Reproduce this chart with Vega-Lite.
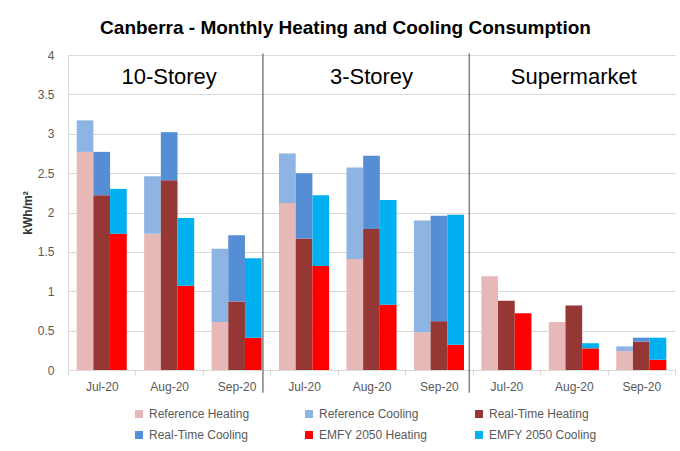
{
  "$schema": "https://vega.github.io/schema/vega-lite/v6.json",
  "width": 607,
  "height": 315,
  "autosize": {"type": "none"},
  "padding": {"left": 68, "top": 55, "right": 5, "bottom": 81},
  "background": "white",
  "title": {
    "text": "Canberra - Monthly Heating and Cooling Consumption",
    "fontSize": 19,
    "fontWeight": "bold",
    "font": "Liberation Sans",
    "color": "black",
    "anchor": "middle",
    "dx": -26,
    "offset": 11
  },
  "config": {
    "view": {"stroke": null},
    "font": "Liberation Sans",
    "axisY": {
      "title": "kWh/m²",
      "titleFontSize": 12,
      "titleFontWeight": "bold",
      "titleColor": "#333333",
      "titlePadding": 3,
      "ticks": false,
      "domainColor": "#d9d9d9",
      "gridColor": "#d9d9d9",
      "labelColor": "#595959",
      "labelFontSize": 12,
      "labelPadding": 14,
      "labelOverlap": false
    }
  },
  "datasets": {
    "bars": [
      {"cat": "10-Storey Jul-20", "s": "Reference", "t": "Heating", "series": "Reference Heating", "v": 2.77},
      {"cat": "10-Storey Jul-20", "s": "Reference", "t": "Cooling", "series": "Reference Cooling", "v": 0.40},
      {"cat": "10-Storey Jul-20", "s": "Real-Time", "t": "Heating", "series": "Real-Time Heating", "v": 2.22},
      {"cat": "10-Storey Jul-20", "s": "Real-Time", "t": "Cooling", "series": "Real-Time Cooling", "v": 0.55},
      {"cat": "10-Storey Jul-20", "s": "EMFY 2050", "t": "Heating", "series": "EMFY 2050 Heating", "v": 1.73},
      {"cat": "10-Storey Jul-20", "s": "EMFY 2050", "t": "Cooling", "series": "EMFY 2050 Cooling", "v": 0.57},
      {"cat": "10-Storey Aug-20", "s": "Reference", "t": "Heating", "series": "Reference Heating", "v": 1.73},
      {"cat": "10-Storey Aug-20", "s": "Reference", "t": "Cooling", "series": "Reference Cooling", "v": 0.73},
      {"cat": "10-Storey Aug-20", "s": "Real-Time", "t": "Heating", "series": "Real-Time Heating", "v": 2.41},
      {"cat": "10-Storey Aug-20", "s": "Real-Time", "t": "Cooling", "series": "Real-Time Cooling", "v": 0.61},
      {"cat": "10-Storey Aug-20", "s": "EMFY 2050", "t": "Heating", "series": "EMFY 2050 Heating", "v": 1.07},
      {"cat": "10-Storey Aug-20", "s": "EMFY 2050", "t": "Cooling", "series": "EMFY 2050 Cooling", "v": 0.86},
      {"cat": "10-Storey Sep-20", "s": "Reference", "t": "Heating", "series": "Reference Heating", "v": 0.61},
      {"cat": "10-Storey Sep-20", "s": "Reference", "t": "Cooling", "series": "Reference Cooling", "v": 0.93},
      {"cat": "10-Storey Sep-20", "s": "Real-Time", "t": "Heating", "series": "Real-Time Heating", "v": 0.87},
      {"cat": "10-Storey Sep-20", "s": "Real-Time", "t": "Cooling", "series": "Real-Time Cooling", "v": 0.84},
      {"cat": "10-Storey Sep-20", "s": "EMFY 2050", "t": "Heating", "series": "EMFY 2050 Heating", "v": 0.41},
      {"cat": "10-Storey Sep-20", "s": "EMFY 2050", "t": "Cooling", "series": "EMFY 2050 Cooling", "v": 1.01},
      {"cat": "3-Storey Jul-20", "s": "Reference", "t": "Heating", "series": "Reference Heating", "v": 2.12},
      {"cat": "3-Storey Jul-20", "s": "Reference", "t": "Cooling", "series": "Reference Cooling", "v": 0.63},
      {"cat": "3-Storey Jul-20", "s": "Real-Time", "t": "Heating", "series": "Real-Time Heating", "v": 1.67},
      {"cat": "3-Storey Jul-20", "s": "Real-Time", "t": "Cooling", "series": "Real-Time Cooling", "v": 0.83},
      {"cat": "3-Storey Jul-20", "s": "EMFY 2050", "t": "Heating", "series": "EMFY 2050 Heating", "v": 1.32},
      {"cat": "3-Storey Jul-20", "s": "EMFY 2050", "t": "Cooling", "series": "EMFY 2050 Cooling", "v": 0.90},
      {"cat": "3-Storey Aug-20", "s": "Reference", "t": "Heating", "series": "Reference Heating", "v": 1.41},
      {"cat": "3-Storey Aug-20", "s": "Reference", "t": "Cooling", "series": "Reference Cooling", "v": 1.16},
      {"cat": "3-Storey Aug-20", "s": "Real-Time", "t": "Heating", "series": "Real-Time Heating", "v": 1.79},
      {"cat": "3-Storey Aug-20", "s": "Real-Time", "t": "Cooling", "series": "Real-Time Cooling", "v": 0.93},
      {"cat": "3-Storey Aug-20", "s": "EMFY 2050", "t": "Heating", "series": "EMFY 2050 Heating", "v": 0.83},
      {"cat": "3-Storey Aug-20", "s": "EMFY 2050", "t": "Cooling", "series": "EMFY 2050 Cooling", "v": 1.33},
      {"cat": "3-Storey Sep-20", "s": "Reference", "t": "Heating", "series": "Reference Heating", "v": 0.48},
      {"cat": "3-Storey Sep-20", "s": "Reference", "t": "Cooling", "series": "Reference Cooling", "v": 1.42},
      {"cat": "3-Storey Sep-20", "s": "Real-Time", "t": "Heating", "series": "Real-Time Heating", "v": 0.62},
      {"cat": "3-Storey Sep-20", "s": "Real-Time", "t": "Cooling", "series": "Real-Time Cooling", "v": 1.34},
      {"cat": "3-Storey Sep-20", "s": "EMFY 2050", "t": "Heating", "series": "EMFY 2050 Heating", "v": 0.32},
      {"cat": "3-Storey Sep-20", "s": "EMFY 2050", "t": "Cooling", "series": "EMFY 2050 Cooling", "v": 1.65},
      {"cat": "Supermarket Jul-20", "s": "Reference", "t": "Heating", "series": "Reference Heating", "v": 1.19},
      {"cat": "Supermarket Jul-20", "s": "Reference", "t": "Cooling", "series": "Reference Cooling", "v": 0},
      {"cat": "Supermarket Jul-20", "s": "Real-Time", "t": "Heating", "series": "Real-Time Heating", "v": 0.88},
      {"cat": "Supermarket Jul-20", "s": "Real-Time", "t": "Cooling", "series": "Real-Time Cooling", "v": 0},
      {"cat": "Supermarket Jul-20", "s": "EMFY 2050", "t": "Heating", "series": "EMFY 2050 Heating", "v": 0.72},
      {"cat": "Supermarket Jul-20", "s": "EMFY 2050", "t": "Cooling", "series": "EMFY 2050 Cooling", "v": 0},
      {"cat": "Supermarket Aug-20", "s": "Reference", "t": "Heating", "series": "Reference Heating", "v": 0.61},
      {"cat": "Supermarket Aug-20", "s": "Reference", "t": "Cooling", "series": "Reference Cooling", "v": 0},
      {"cat": "Supermarket Aug-20", "s": "Real-Time", "t": "Heating", "series": "Real-Time Heating", "v": 0.82},
      {"cat": "Supermarket Aug-20", "s": "Real-Time", "t": "Cooling", "series": "Real-Time Cooling", "v": 0},
      {"cat": "Supermarket Aug-20", "s": "EMFY 2050", "t": "Heating", "series": "EMFY 2050 Heating", "v": 0.275},
      {"cat": "Supermarket Aug-20", "s": "EMFY 2050", "t": "Cooling", "series": "EMFY 2050 Cooling", "v": 0.065},
      {"cat": "Supermarket Sep-20", "s": "Reference", "t": "Heating", "series": "Reference Heating", "v": 0.24},
      {"cat": "Supermarket Sep-20", "s": "Reference", "t": "Cooling", "series": "Reference Cooling", "v": 0.06},
      {"cat": "Supermarket Sep-20", "s": "Real-Time", "t": "Heating", "series": "Real-Time Heating", "v": 0.36},
      {"cat": "Supermarket Sep-20", "s": "Real-Time", "t": "Cooling", "series": "Real-Time Cooling", "v": 0.05},
      {"cat": "Supermarket Sep-20", "s": "EMFY 2050", "t": "Heating", "series": "EMFY 2050 Heating", "v": 0.13},
      {"cat": "Supermarket Sep-20", "s": "EMFY 2050", "t": "Cooling", "series": "EMFY 2050 Cooling", "v": 0.28}
    ],
    "panels": [
      {"cat": "10-Storey Aug-20", "name": "10-Storey"},
      {"cat": "3-Storey Aug-20", "name": "3-Storey"},
      {"cat": "Supermarket Aug-20", "name": "Supermarket"}
    ],
    "div1": [{"cat": "10-Storey Sep-20"}],
    "div2": [{"cat": "3-Storey Sep-20"}]
  },
  "layer": [
    {
      "data": {"name": "bars"},
      "mark": {"type": "bar"},
      "encoding": {
        "x": {
          "field": "cat",
          "type": "nominal",
          "sort": ["10-Storey Jul-20", "10-Storey Aug-20", "10-Storey Sep-20", "3-Storey Jul-20", "3-Storey Aug-20", "3-Storey Sep-20", "Supermarket Jul-20", "Supermarket Aug-20", "Supermarket Sep-20"],
          "scale": {"paddingInner": 0, "paddingOuter": 0},
          "axis": {
            "title": null,
            "labelExpr": "split(datum.label, ' ')[1]",
            "labelAngle": 0,
            "tickBand": "extent",
            "domainColor": "#d9d9d9",
            "tickColor": "#d9d9d9",
            "tickSize": 5,
            "labelColor": "#595959",
            "labelFontSize": 12,
            "labelPadding": 6,
            "grid": false
          }
        },
        "xOffset": {
          "field": "s",
          "type": "nominal",
          "sort": ["Reference", "Real-Time", "EMFY 2050"],
          "scale": {"paddingInner": 0, "paddingOuter": 0.52}
        },
        "y": {
          "field": "v",
          "type": "quantitative",
          "stack": "zero",
          "scale": {"domain": [0, 4]},
          "axis": {"title": "kWh/m²", "values": [0, 0.5, 1, 1.5, 2, 2.5, 3, 3.5, 4], "format": "~g"}
        },
        "color": {
          "field": "series",
          "type": "nominal",
          "scale": {
            "domain": ["Reference Heating", "Reference Cooling", "Real-Time Heating", "Real-Time Cooling", "EMFY 2050 Heating", "EMFY 2050 Cooling"],
            "range": ["#E6B9B8", "#8EB4E3", "#953735", "#558ED5", "#FF0000", "#00B0F0"]
          },
          "legend": {
            "title": null,
            "orient": "none",
            "legendX": 65,
            "legendY": 353,
            "direction": "horizontal",
            "columns": 3,
            "gridAlign": "all",
            "columnPadding": 45,
            "rowPadding": 9,
            "symbolType": "square",
            "symbolSize": 64,
            "symbolStrokeWidth": 0,
            "labelFontSize": 12,
            "labelColor": "#595959",
            "labelLimit": 200
          }
        },
        "order": {"field": "t", "sort": "descending"}
      }
    },
    {
      "data": {"name": "div1"},
      "mark": {"type": "rule", "color": "#808080", "strokeWidth": 1.5},
      "encoding": {
        "x": {"field": "cat", "type": "nominal", "bandPosition": 0.89, "sort": ["10-Storey Jul-20", "10-Storey Aug-20", "10-Storey Sep-20", "3-Storey Jul-20", "3-Storey Aug-20", "3-Storey Sep-20", "Supermarket Jul-20", "Supermarket Aug-20", "Supermarket Sep-20"]},
        "y": {"datum": 4.02, "type": "quantitative", "axis": {"title": "kWh/m²", "values": [0, 0.5, 1, 1.5, 2, 2.5, 3, 3.5, 4], "format": "~g"}},
        "y2": {"datum": -0.29}
      }
    },
    {
      "data": {"name": "div2"},
      "mark": {"type": "rule", "color": "#808080", "strokeWidth": 1.5},
      "encoding": {
        "x": {"field": "cat", "type": "nominal", "bandPosition": 0.95, "sort": ["10-Storey Jul-20", "10-Storey Aug-20", "10-Storey Sep-20", "3-Storey Jul-20", "3-Storey Aug-20", "3-Storey Sep-20", "Supermarket Jul-20", "Supermarket Aug-20", "Supermarket Sep-20"]},
        "y": {"datum": 4.02, "type": "quantitative", "axis": {"title": "kWh/m²", "values": [0, 0.5, 1, 1.5, 2, 2.5, 3, 3.5, 4], "format": "~g"}},
        "y2": {"datum": -0.29}
      }
    },
    {
      "data": {"name": "panels"},
      "mark": {"type": "text", "fontSize": 22, "color": "black", "baseline": "middle", "align": "center"},
      "encoding": {
        "x": {"field": "cat", "type": "nominal", "sort": ["10-Storey Jul-20", "10-Storey Aug-20", "10-Storey Sep-20", "3-Storey Jul-20", "3-Storey Aug-20", "3-Storey Sep-20", "Supermarket Jul-20", "Supermarket Aug-20", "Supermarket Sep-20"]},
        "y": {"datum": 3.72, "type": "quantitative", "axis": {"title": "kWh/m²", "values": [0, 0.5, 1, 1.5, 2, 2.5, 3, 3.5, 4], "format": "~g"}},
        "text": {"field": "name"}
      }
    }
  ]
}
